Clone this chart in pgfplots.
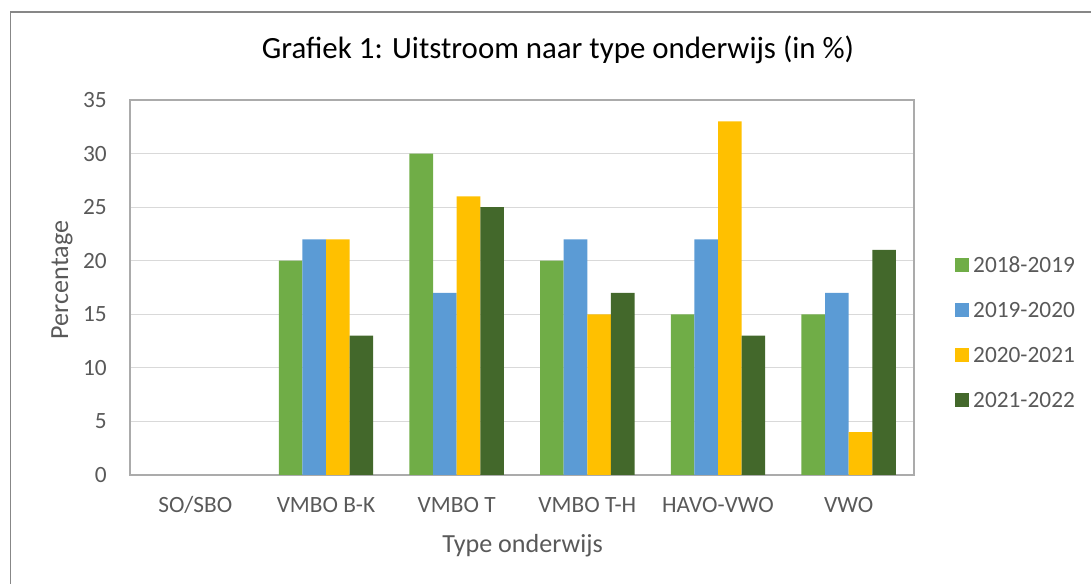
\documentclass[border=0pt]{standalone}
\usepackage{fontspec}
\setmainfont{Carlito}
\usepackage{pgfplots}
\pgfplotsset{compat=1.18}
\definecolor{cA}{HTML}{70AD47}
\definecolor{cB}{HTML}{5B9BD5}
\definecolor{cC}{HTML}{FFC000}
\definecolor{cD}{HTML}{43682B}
\definecolor{txt}{HTML}{595959}
\definecolor{gridc}{HTML}{D9D9D9}
\definecolor{axc}{HTML}{ABABAB}
\definecolor{framec}{HTML}{878787}
\pgfplotstableread{
x a b c d
0 0 0 0 0
1 20 22 22 13
2 30 17 26 25
3 20 22 15 17
4 15 22 33 13
5 15 17 4 21
}\datatable
\begin{document}
\begin{tikzpicture}[x=1bp,y=1bp]
\useasboundingbox (0,0) rectangle (1091,584);
\draw[color=framec, line width=1.6bp] (10.5,0) -- (10.5,572) -- (1091,572);
\node[font=\fontsize{31}{36}\selectfont, text=black] at (558,534) {Grafiek 1: Uitstroom naar type onderwijs (in \%)};
\node[font=\fontsize{26.2}{30}\selectfont, text=txt] at (522.5,38) {Type onderwijs};
\node[font=\fontsize{26.2}{30}\selectfont, text=txt, rotate=90] at (62,304) {Percentage};
\begin{axis}[
  at={(130bp,109bp)}, anchor=south west,
  scale only axis, width=784bp, height=375bp,
  xmin=-0.5, xmax=5.5, ymin=0, ymax=35,
  ytick={0,5,...,35},
  xtick={0,1,2,3,4,5},
  xticklabels={SO/SBO, VMBO B-K, VMBO T, VMBO T-H, HAVO-VWO, VWO},
  major tick length=0pt,
  ymajorgrids, grid style={color=gridc, line width=1.2bp},
  axis line style={color=axc, line width=1.5bp},
  ybar=0pt, bar width=23.6bp,
  /pgf/number format/assume math mode=true,
  tick label style={font=\fontsize{23.4}{28}\selectfont, text=txt, inner sep=0pt},
  yticklabel style={anchor=east, xshift=-23bp},
  xticklabel style={anchor=base, yshift=-38bp},
  legend style={at={(1,0.38)}, anchor=west, xshift=41bp, draw=none, fill=none,
    inner sep=0pt, row sep=28.3bp, font=\fontsize{23.4}{28}\selectfont, text=txt,
    nodes={inner sep=0pt}},
  legend cell align=left,
  legend image code/.code={\fill[#1] (0bp,-7bp) rectangle (14bp,7bp);},
  every axis plot/.append style={draw=none},
  restrict y to domain=0.001:100,
]
\addplot[fill=cA] table[x=x,y=a] {\datatable};
\addplot[fill=cB] table[x=x,y=b] {\datatable};
\addplot[fill=cC] table[x=x,y=c] {\datatable};
\addplot[fill=cD] table[x=x,y=d] {\datatable};
\legend{\hspace{4bp}2018-2019, \hspace{4bp}2019-2020, \hspace{4bp}2020-2021, \hspace{4bp}2021-2022}
\end{axis}
\end{tikzpicture}
\end{document}
